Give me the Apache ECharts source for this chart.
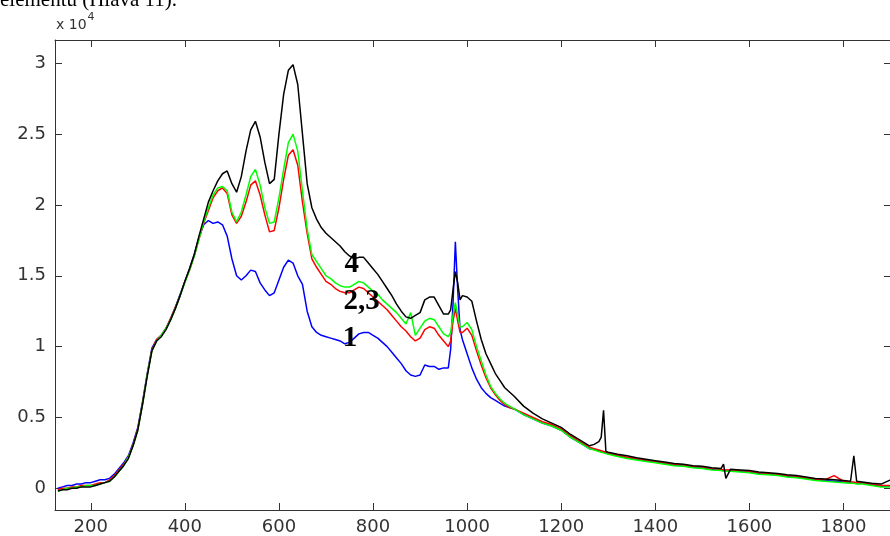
<!DOCTYPE html>
<html>
<head>
<meta charset="utf-8">
<title>Spektra 1–4</title>
<script src="https://cdn.jsdelivr.net/npm/echarts@6/dist/echarts.min.js"></script>
<style>
  html, body { margin: 0; padding: 0; overflow: hidden; background: #fff; }
  #chart { width: 900px; height: 536px; }
</style>
</head>
<body>
<div id="chart"></div>
<script>
// Raman shift (x) shared by all four spectra
const shift = [
  130,140,150,160,170,180,190,200,210,220,230,240,250,260,270,280,290,300,310,320,330,340,350,360,370,380,390,400,410,420,430,440,
  450,460,470,480,490,500,510,520,530,540,550,560,570,580,590,600,610,620,630,640,650,660,670,680,690,700,710,720,730,740,750,760,770,780,790,800,810,820,830,840,850,860,870,880,890,900,910,920,930,940,950,960,
  965,970,975,980,985,990,
  1000,1010,1020,1030,1040,1050,1060,1070,1080,1090,1100,
  1120,1140,1160,1180,1200,1220,1240,1260,
  1270,1280,1285,1290,1295,1300,
  1320,1340,1360,1380,1400,1420,1440,1460,1480,1500,1520,1540,
  1545,1550,
  1560,1580,1600,1620,1640,1660,1680,1700,1720,1740,1760,1780,1800,
  1815,1822,1828,
  1840,1860,1880,1900
];

// intensities in units of 10^4
const curve1 = [
  0.00,0.01,0.02,0.02,0.03,0.03,0.04,0.04,0.05,0.06,0.06,0.07,0.10,0.14,0.18,0.23,0.32,0.43,0.61,0.81,0.99,1.05,1.08,1.13,1.20,1.28,1.37,1.46,1.55,1.65,1.77,1.86,
  1.89,1.87,1.88,1.86,1.78,1.62,1.50,1.47,1.50,1.54,1.53,1.45,1.40,1.36,1.38,1.47,1.56,1.61,1.59,1.50,1.44,1.25,1.14,1.10,1.08,1.07,1.06,1.05,1.04,1.02,1.03,1.06,1.09,1.10,1.10,1.08,1.06,1.03,1.00,0.96,0.92,0.88,0.83,0.80,0.79,0.80,0.87,0.86,0.86,0.84,0.85,0.85,
  0.98,1.30,1.74,1.40,1.12,1.05,
  0.95,0.85,0.77,0.71,0.67,0.64,0.62,0.60,0.58,0.57,0.56,
  0.52,0.49,0.46,0.44,0.41,0.36,0.32,0.28,
  0.275,0.265,0.26,0.255,0.25,0.245,
  0.23,0.215,0.205,0.195,0.185,0.175,0.165,0.16,0.15,0.145,0.135,0.13,
  0.125,0.125,
  0.125,0.12,0.115,0.105,0.10,0.095,0.085,0.08,0.07,0.06,0.055,0.05,0.045,
  0.04,0.04,0.035,
  0.035,0.025,0.015,0.015
];

const curve2 = [
  -0.01,0.00,0.00,0.01,0.01,0.02,0.02,0.02,0.03,0.04,0.04,0.06,0.09,0.13,0.17,0.22,0.31,0.42,0.60,0.80,0.98,1.05,1.08,1.13,1.20,1.28,1.36,1.46,1.54,1.64,1.76,1.87,
  1.96,2.05,2.10,2.12,2.08,1.93,1.87,1.92,2.02,2.14,2.17,2.07,1.93,1.81,1.82,1.98,2.18,2.35,2.39,2.28,2.02,1.80,1.62,1.56,1.51,1.46,1.44,1.41,1.39,1.38,1.38,1.40,1.42,1.41,1.38,1.35,1.32,1.29,1.26,1.22,1.18,1.14,1.11,1.07,1.04,1.06,1.12,1.14,1.13,1.08,1.04,1.00,
  1.04,1.18,1.27,1.18,1.10,1.10,
  1.13,1.08,0.97,0.87,0.78,0.71,0.66,0.62,0.59,0.57,0.56,
  0.53,0.50,0.47,0.45,0.42,0.37,0.33,0.29,
  0.28,0.27,0.265,0.26,0.255,0.25,
  0.235,0.22,0.21,0.20,0.19,0.18,0.17,0.165,0.155,0.15,0.14,0.135,
  0.13,0.13,
  0.13,0.125,0.12,0.11,0.105,0.10,0.09,0.085,0.075,0.065,0.06,0.09,0.05,
  0.045,0.045,0.04,
  0.04,0.03,0.02,0.02
];

const curve3 = [
  -0.02,-0.01,0.00,0.00,0.01,0.01,0.02,0.02,0.02,0.03,0.04,0.05,0.08,0.12,0.16,0.22,0.30,0.41,0.59,0.80,0.97,1.04,1.08,1.13,1.19,1.27,1.36,1.45,1.54,1.64,1.76,1.88,
  1.98,2.07,2.12,2.13,2.10,1.95,1.88,1.95,2.07,2.20,2.25,2.14,1.98,1.87,1.88,2.05,2.25,2.44,2.50,2.38,2.10,1.83,1.65,1.60,1.55,1.50,1.48,1.45,1.43,1.42,1.42,1.44,1.46,1.45,1.42,1.39,1.37,1.33,1.30,1.27,1.24,1.20,1.16,1.24,1.08,1.13,1.18,1.20,1.19,1.14,1.09,1.07,
  1.10,1.22,1.31,1.22,1.14,1.14,
  1.17,1.12,1.00,0.90,0.80,0.72,0.67,0.63,0.60,0.58,0.56,
  0.52,0.49,0.46,0.44,0.41,0.36,0.32,0.28,
  0.27,0.26,0.255,0.25,0.245,0.24,
  0.225,0.21,0.20,0.19,0.18,0.17,0.16,0.155,0.145,0.14,0.13,0.125,
  0.12,0.12,
  0.12,0.115,0.11,0.10,0.095,0.09,0.08,0.075,0.065,0.055,0.05,0.045,0.04,
  0.035,0.035,0.03,
  0.03,0.02,0.01,0.01
];

const curve4 = [
  -0.02,-0.01,-0.01,0.00,0.00,0.01,0.01,0.01,0.02,0.03,0.04,0.05,0.08,0.12,0.16,0.21,0.30,0.41,0.59,0.79,0.97,1.04,1.07,1.12,1.19,1.27,1.36,1.46,1.55,1.65,1.78,1.90,
  2.02,2.10,2.17,2.22,2.24,2.15,2.09,2.20,2.38,2.53,2.59,2.48,2.30,2.15,2.18,2.50,2.78,2.95,2.99,2.85,2.50,2.15,1.98,1.90,1.84,1.80,1.77,1.74,1.71,1.67,1.64,1.62,1.63,1.63,1.59,1.55,1.51,1.46,1.41,1.36,1.30,1.25,1.21,1.20,1.22,1.24,1.33,1.35,1.35,1.29,1.23,1.23,
  1.26,1.40,1.53,1.45,1.33,1.36,
  1.35,1.32,1.18,1.05,0.95,0.88,0.81,0.76,0.71,0.68,0.65,
  0.58,0.53,0.49,0.46,0.43,0.38,0.34,0.30,
  0.31,0.33,0.36,0.55,0.26,0.255,
  0.24,0.23,0.215,0.205,0.195,0.185,0.175,0.17,0.16,0.155,0.145,0.14,
  0.17,0.07,
  0.135,0.13,0.125,0.115,0.11,0.105,0.095,0.09,0.08,0.07,0.065,0.06,0.055,
  0.05,0.23,0.05,
  0.045,0.035,0.03,0.06
];

const xTicks = [200, 400, 600, 800, 1000, 1200, 1400, 1600, 1800];
const yTicks = [0, 0.5, 1, 1.5, 2, 2.5, 3];

const curveNames = ['1', '2', '3', '4'];
const curveColors = ['#0000ff', '#ff0000', '#00ff00', '#000000'];
const curves = [curve1, curve2, curve3, curve4];

// curve annotations: text and the data point it sits on
const annotations = [
  { text: '4',   at: [755, 1.58] },
  { text: '2,3', at: [776, 1.32] },
  { text: '1',   at: [751, 1.06] }
];

const axisColor = '#333';
const labelFont = { fontFamily: 'DejaVu Sans', fontSize: 18, color: '#333' };

const chart = echarts.init(document.getElementById('chart'), null, { renderer: 'canvas' });

function pairs(values) {
  return shift.map((x, i) => [x, values[i]]);
}

// plain numbers, no digit grouping
const plain = (v) => String(v);

const frameAxis = (extra) => Object.assign({
  type: 'value',
  axisLine: { show: true, onZero: false, lineStyle: { color: axisColor, width: 1 } },
  splitLine: { show: false },
  axisTick: { show: true, inside: true, length: 7, lineStyle: { color: axisColor, width: 1 } },
  axisLabel: { show: false }
}, extra);

chart.setOption({
  animation: false,
  backgroundColor: '#fff',
  grid: { left: 55, top: 40, width: 836, height: 471, containLabel: false },
  xAxis: [
    frameAxis({
      position: 'bottom', min: 124, max: 1901,
      axisTick: { show: true, inside: true, length: 7, customValues: xTicks, lineStyle: { color: axisColor, width: 1 } },
      axisLabel: Object.assign({ show: true, margin: 8, customValues: xTicks, formatter: plain }, labelFont)
    }),
    frameAxis({
      position: 'top', min: 124, max: 1901,
      axisTick: { show: true, inside: true, length: 7, customValues: xTicks, lineStyle: { color: axisColor, width: 1 } }
    })
  ],
  yAxis: [
    frameAxis({
      position: 'left', min: -0.153, max: 3.164,
      axisTick: { show: true, inside: true, length: 7, customValues: yTicks, lineStyle: { color: axisColor, width: 1 } },
      axisLabel: Object.assign({ show: true, margin: 9, customValues: yTicks, formatter: plain }, labelFont)
    }),
    frameAxis({
      position: 'right', min: -0.153, max: 3.164,
      axisTick: { show: true, inside: true, length: 7, customValues: yTicks, lineStyle: { color: axisColor, width: 1 } }
    })
  ],
  series: curves.map((values, i) => ({
    name: curveNames[i],
    type: 'line',
    data: pairs(values),
    symbol: 'none',
    lineStyle: { color: curveColors[i], width: 1.5 },
    itemStyle: { color: curveColors[i] },
    z: 2 + i
  }))
});

const graphics = [
  {
    // running text of the page above the figure, mostly cut off
    type: 'text',
    x: 0,
    y: 11,
    style: {
      text: 'elementu (Hlava 11).',
      fontFamily: 'Liberation Serif',
      fontSize: 21,
      fill: '#000',
      verticalAlign: 'bottom'
    }
  },
  {
    type: 'text',
    left: 56,
    top: 12,
    style: {
      text: '{a|x 10}{b|4}',
      rich: {
        a: { fontFamily: 'DejaVu Sans', fontSize: 14, fill: '#333', verticalAlign: 'bottom', lineHeight: 20 },
        b: { fontFamily: 'DejaVu Sans', fontSize: 11, fill: '#333', verticalAlign: 'top', lineHeight: 20, padding: [0, 0, 8, 1] }
      }
    }
  }
];

annotations.forEach((a) => {
  const p = chart.convertToPixel({ xAxisIndex: 0, yAxisIndex: 0 }, a.at);
  graphics.push({
    type: 'text',
    x: p[0],
    y: p[1],
    z: 20,
    style: {
      text: a.text,
      fontFamily: 'Liberation Serif',
      fontWeight: 'bold',
      fontSize: 29,
      fill: '#000',
      align: 'center',
      verticalAlign: 'middle'
    }
  });
});

chart.setOption({ graphic: graphics });
</script>
</body>
</html>
